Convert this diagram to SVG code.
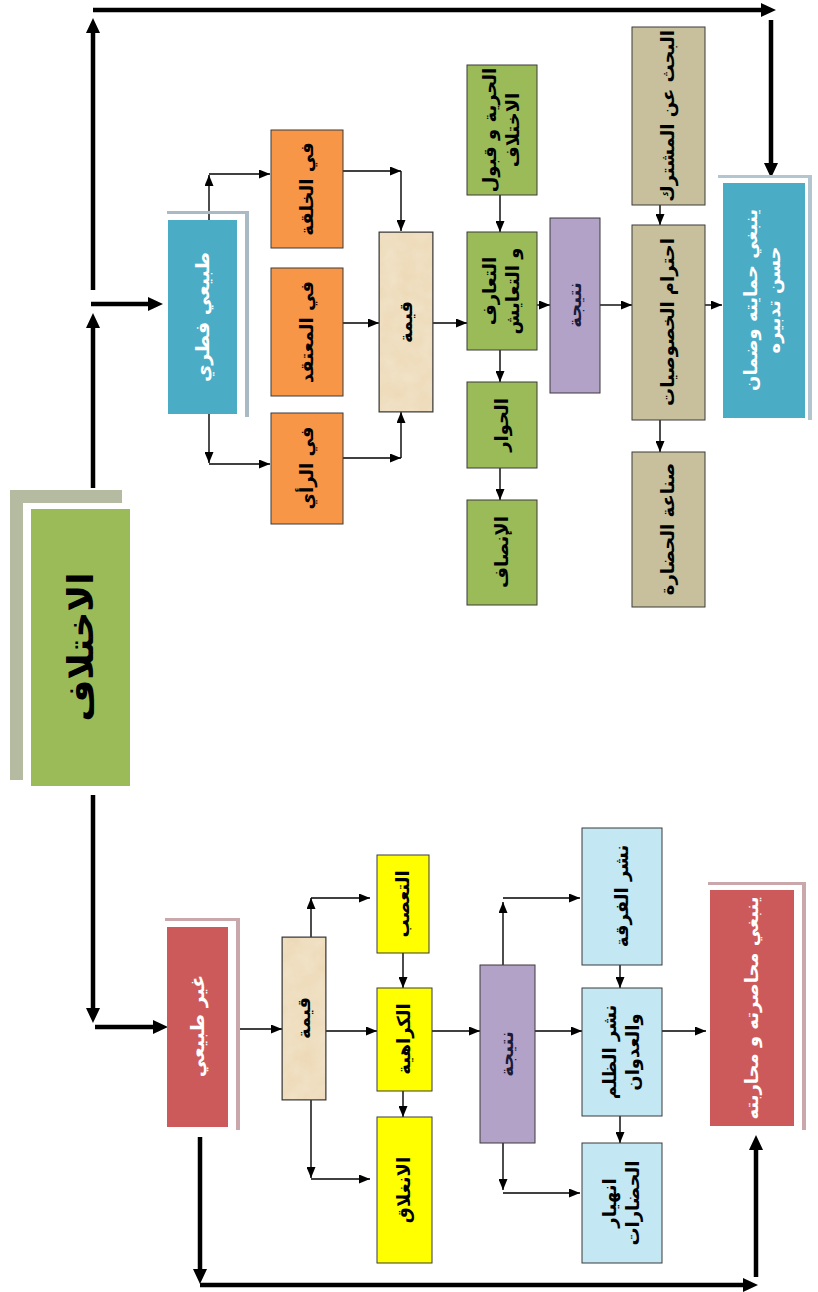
<svg xmlns="http://www.w3.org/2000/svg" width="818" height="1292" viewBox="0 0 818 1292">
<defs>
<style>
.t{font-family:"DejaVu Sans","Noto Sans",sans-serif;font-weight:bold;font-size:18px;text-anchor:middle;fill:#000}
.w{fill:#fff}
.box{stroke:#3a3a3a;stroke-width:1}
.thin{fill:none;stroke:#000;stroke-width:1.4;marker-end:url(#ah)}
.thick{fill:none;stroke:#000;stroke-width:4.5;marker-end:url(#ahb)}
.orange{fill:#F79646}
.green{fill:#9BBB59}
.tan{fill:#C8C09C}
.purple{fill:#B3A2C7}
.yellow{fill:#FFFF00}
.lblue{fill:#C3E7F3}
.parch{fill:#F1E2C6}
</style>
<marker id="ah" viewBox="0 0 11 9" refX="11" refY="4.5" markerWidth="11" markerHeight="9" markerUnits="userSpaceOnUse" orient="auto"><path d="M0,0 L11,4.5 L0,9 z" fill="#000"/></marker>
<marker id="ahb" viewBox="0 0 15 14" refX="5" refY="7" markerWidth="15" markerHeight="14" markerUnits="userSpaceOnUse" orient="auto"><path d="M0,0 L15,7 L0,14 z" fill="#000"/></marker>
<filter id="tex" x="0" y="0" width="1" height="1"><feTurbulence type="fractalNoise" baseFrequency="0.06" numOctaves="3" seed="4"/><feColorMatrix type="matrix" values="0 0 0 0 0.93  0 0 0 0 0.86  0 0 0 0 0.74  0 0 0 -0.9 0.75"/><feComposite in2="SourceGraphic" operator="in"/><feBlend in2="SourceGraphic" mode="multiply"/></filter>
</defs>
<rect width="818" height="1292" fill="#fff"/>

<g id="connectors">
<path class="thick" d="M93,488 V323"/>
<path class="thick" d="M91,304 H153"/>
<path class="thick" d="M93,290 V28"/>
<path class="thick" d="M93,10 H766"/>
<path class="thick" d="M771,20 V168"/>
<path class="thick" d="M93,795 V1013"/>
<path class="thick" d="M95,1027 H158"/>
<path class="thick" d="M200,1137 V1274"/>
<path class="thick" d="M200,1285 H748"/>
<path class="thick" d="M756,1277 V1145"/>

<path class="thin" d="M209,220 V175"/>
<path class="thin" d="M209,174 H270"/>
<path class="thin" d="M209,414 V463"/>
<path class="thin" d="M209,464 H270"/>
<path class="thin" d="M343,171 H401"/>
<path class="thin" d="M401,171 V231"/>
<path class="thin" d="M343,323 H379"/>
<path class="thin" d="M343,458 H401"/>
<path class="thin" d="M401,458 V412"/>
<path class="thin" d="M433,323 H467"/>
<path class="thin" d="M500,195 V232"/>
<path class="thin" d="M500,350 V382"/>
<path class="thin" d="M500,468 V500"/>
<path class="thin" d="M524,305 H550"/>
<path class="thin" d="M600,305 H632"/>
<path class="thin" d="M660,205 V225"/>
<path class="thin" d="M660,420 V452"/>
<path class="thin" d="M705,305 H722"/>

<path class="thin" d="M236,1029 H282"/>
<path class="thin" d="M311,937 V898"/>
<path class="thin" d="M311,898 H370"/>
<path class="thin" d="M311,1100 V1178"/>
<path class="thin" d="M311,1179 H370"/>
<path class="thin" d="M326,1031 H377"/>
<path class="thin" d="M403,953 V988"/>
<path class="thin" d="M403,1091 V1117"/>
<path class="thin" d="M432,1031 H480"/>
<path class="thin" d="M503,965 V902"/>
<path class="thin" d="M503,898 H580"/>
<path class="thin" d="M503,1143 V1190"/>
<path class="thin" d="M503,1193 H580"/>
<path class="thin" d="M535,1031 H582"/>
<path class="thin" d="M620,965 V988"/>
<path class="thin" d="M620,1116 V1143"/>
<path class="thin" d="M662,1031 H706"/>
</g>

<g id="n-title">
<path d="M10,490 H122 V503 H23 V780 H10 Z" fill="#B4BBA0"/>
<rect x="31" y="509" width="99" height="277" fill="#9BBB59"/>
<text class="t" style="font-size:36px" transform="translate(80,647) rotate(-90)" y="13">الاختلاف</text>
</g>

<g id="n-natural">
<path d="M167,211 H249 V417 H245 V214 H167 Z" fill="#A9BAC4"/>
<rect x="168" y="220" width="69" height="194" fill="#4BACC6"/>
<text class="t w" style="font-size:19px" transform="translate(203,317) rotate(-90)" y="6">طبيعي فطري</text>
</g>

<g id="n-khilqa"><rect class="box orange" x="271" y="130" width="72" height="118"/>
<text class="t" transform="translate(307,189) rotate(-90)" y="6">في الخلقة</text></g>
<g id="n-muataqad"><rect class="box orange" x="271" y="268" width="72" height="128"/>
<text class="t" transform="translate(307,332) rotate(-90)" y="6">في المعتقد</text></g>
<g id="n-rai"><rect class="box orange" x="271" y="413" width="72" height="111"/>
<text class="t" transform="translate(307,468) rotate(-90)" y="6">في الرأي</text></g>

<g id="n-qima1"><rect class="box parch" x="379" y="232" width="54" height="180" filter="url(#tex)"/>
<rect x="379" y="232" width="54" height="180" fill="none" stroke="#3a3a3a"/>
<text class="t" transform="translate(406,322) rotate(-90)" y="6">قيمة</text></g>

<g id="n-hurriya"><rect class="box green" x="467" y="65" width="70" height="130"/>
<text class="t" transform="translate(502,130) rotate(-90)"><tspan x="0" y="-6">الحرية و قبول</tspan><tspan x="0" y="17">الاختلاف</tspan></text></g>
<g id="n-taaruf"><rect class="box green" x="467" y="232" width="70" height="118"/>
<text class="t" transform="translate(502,291) rotate(-90)"><tspan x="0" y="-6">التعارف</tspan><tspan x="0" y="17">و التعايش</tspan></text></g>
<g id="n-hiwar"><rect class="box green" x="467" y="382" width="70" height="86"/>
<text class="t" transform="translate(502,425) rotate(-90)" y="6">الحوار</text></g>
<g id="n-insaf"><rect class="box green" x="467" y="500" width="70" height="105"/>
<text class="t" transform="translate(502,552) rotate(-90)" y="6">الإنصاف</text></g>

<g id="n-natija1"><rect class="box purple" x="550" y="218" width="50" height="175"/>
<text class="t" style="fill:#1a1a3a" transform="translate(575,305) rotate(-90)" y="6">نتيجة</text></g>

<g id="n-bahth"><rect class="box tan" x="632" y="27" width="73" height="178"/>
<text class="t" transform="translate(668,116) rotate(-90)" y="6">البحث عن المشترك</text></g>
<g id="n-ihtiram"><rect class="box tan" x="632" y="225" width="73" height="195"/>
<text class="t" transform="translate(668,322) rotate(-90)" y="6">احترام الخصوصيات</text></g>
<g id="n-sinaa"><rect class="box tan" x="632" y="452" width="73" height="155"/>
<text class="t" transform="translate(668,529) rotate(-90)" y="6">صناعة الحضارة</text></g>

<g id="n-protect">
<path d="M718,175 H812 V420 H808 V178 H718 Z" fill="#B3C6D0"/>
<rect x="723" y="183" width="82" height="235" fill="#4BACC6"/>
<text class="t w" transform="translate(763,300) rotate(-90)"><tspan x="0" y="-6">ينبغي حمايته وضمان</tspan><tspan x="0" y="17">حسن تدبيره</tspan></text>
</g>

<g id="n-unnatural">
<path d="M165,918 H240 V1130 H236 V921 H165 Z" fill="#C9A7AA"/>
<rect x="167" y="927" width="61" height="200" fill="#CD5A5A"/>
<text class="t w" style="font-size:19px" transform="translate(198,1026) rotate(-90)" y="6">غير طبيعي</text>
</g>

<g id="n-qima2"><rect class="box parch" x="282" y="937" width="44" height="163" filter="url(#tex)"/>
<rect x="282" y="937" width="44" height="163" fill="none" stroke="#3a3a3a"/>
<text class="t" transform="translate(304,1018) rotate(-90)" y="6">قيمة</text></g>

<g id="n-taassub"><rect class="box yellow" x="377" y="855" width="52" height="98"/>
<text class="t" transform="translate(403,904) rotate(-90)" y="6">التعصب</text></g>
<g id="n-karahiya"><rect class="box yellow" x="377" y="988" width="55" height="103"/>
<text class="t" transform="translate(404,1039) rotate(-90)" y="6">الكراهية</text></g>
<g id="n-inghilaq"><rect class="box yellow" x="377" y="1117" width="55" height="146"/>
<text class="t" transform="translate(404,1190) rotate(-90)" y="6">الانغلاق</text></g>

<g id="n-natija2"><rect class="box purple" x="480" y="965" width="55" height="178"/>
<text class="t" style="fill:#1a1a3a" transform="translate(507,1054) rotate(-90)" y="6">نتيجة</text></g>

<g id="n-furqa"><rect class="box lblue" x="582" y="828" width="80" height="137"/>
<text class="t" transform="translate(622,896) rotate(-90)" y="6">نشر الفرقة</text></g>
<g id="n-zulm"><rect class="box lblue" x="582" y="988" width="80" height="128"/>
<text class="t" transform="translate(622,1052) rotate(-90)"><tspan x="0" y="-6">نشر الظلم</tspan><tspan x="0" y="17">والعدوان</tspan></text></g>
<g id="n-inhiyar"><rect class="box lblue" x="582" y="1143" width="80" height="120"/>
<text class="t" transform="translate(622,1203) rotate(-90)"><tspan x="0" y="-6">انهيار</tspan><tspan x="0" y="17">الحضارات</tspan></text></g>

<g id="n-fight">
<path d="M708,882 H806 V1130 H802 V885 H708 Z" fill="#C9A7AA"/>
<rect x="710" y="890" width="84" height="236" fill="#CD5A5A"/>
<text class="t w" transform="translate(752,1008) rotate(-90)" y="6">ينبغي محاصرته و محاربته</text>
</g>
</svg>
